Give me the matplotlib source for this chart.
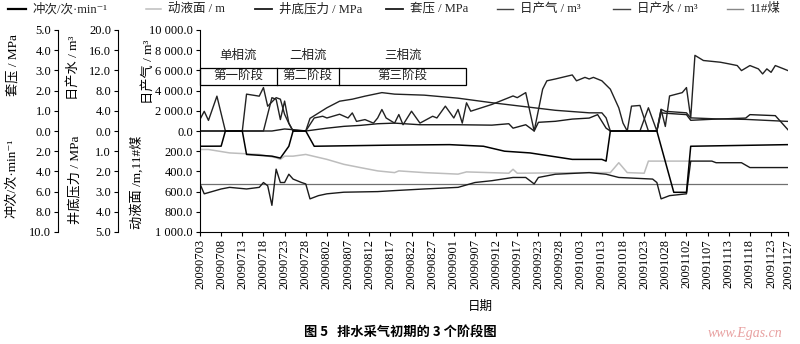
import matplotlib
matplotlib.use("Agg")
import matplotlib.pyplot as plt
from matplotlib.lines import Line2D
from matplotlib.patches import Rectangle

plt.rcParams['font.family'] = ['Liberation Serif', 'Noto Sans CJK SC', 'DejaVu Sans']

# -------------
# Data: (record index, value) pairs
# -------------
dates = ["20090703", "20090708", "20090713", "20090718", "20090723", "20090728",
         "20090802", "20090807", "20090812", "20090817", "20090822", "20090827",
         "20090901", "20090907", "20090912", "20090917", "20090923", "20090928",
         "20091003", "20091013", "20091018", "20091023", "20091028", "20091102",
         "20091107", "20091113", "20091118", "20091123", "20091127"]
date_idx = [0, 5, 10, 15, 20, 25, 30, 35, 40, 45, 50, 55, 60, 65, 70, 75, 80,
            85, 90, 95, 100, 105, 110, 115, 120, 125, 130, 135, 139]

# 日产水 m3
water_i = [0, 1, 2, 4, 6, 10, 11, 14, 15, 16, 18, 19, 20, 21, 22, 25, 26, 30, 33, 36,
           39, 43, 46, 53, 61, 69, 76, 84, 92, 95, 96, 97, 104, 106, 108, 109, 110,
           115, 116, 122, 129, 139]
water_v = [2.3, 3.9, 2.1, 6.9, 0, 0, 7.3, 6.9, 8.6, 4.9, 6.6, 6.3, 3.3, 1.5, 0, 0, 2.5,
           4.6, 5.9, 6.3, 6.9, 7.6, 7.3, 7.1, 6.5, 5.6, 4.9, 4.1, 3.6, 3.6, 2.6, 0, 0,
           4.6, 0, 4.3, 3.9, 3.6, 2.6, 2.4, 2.3, 1.9]

# 日产气 m3
gas_i = [0, 15, 17, 18, 19, 20, 21, 22, 25, 27, 29, 30, 33, 35, 36, 37, 39, 41, 42, 43,
         44, 46, 47, 48, 50, 52, 55, 56, 58, 60, 61, 62, 63, 64, 69, 74, 75, 77, 79, 81,
         82, 84, 88, 89, 91, 92, 93, 95, 97, 99, 100, 101, 102, 104, 106, 108, 109, 110,
         111, 114, 115, 116, 117, 119, 123, 125, 127, 128, 130, 132, 133, 134, 135, 136,
         138, 139]
gas_v = [0, 0, 3300, 3140, 1130, 2960, 780, 0, 0, 1290, 1460, 1290, 1660, 1290, 1790,
         950, 1130, 780, 1290, 2130, 1290, 780, 1630, 620, 1960, 780, 1460, 1290, 2460,
         1290, 2130, 780, 2790, 1960, 2630, 3470, 3300, 3800, 0, 4140, 4970, 5150, 5550,
         4970, 5310, 5150, 5310, 4970, 4140, 2290, 780, 0, 2460, 2530, 0, 0, 2130, 450,
         3470, 3800, 4300, 1290, 7490, 6980, 6810, 6650, 6480, 5980, 6480, 6150, 5650,
         6150, 5810, 6480, 6150, 5980]

# 套压 MPa
casing_i = [0, 17, 20, 23, 25, 30, 34, 38, 42, 46, 52, 61, 69, 73, 74, 77, 79, 80, 84,
            88, 92, 94, 96, 97, 108, 109, 110, 115, 116, 121, 129, 130, 136, 139]
casing_v = [0, 0, 0.1, 0.05, 0, 0.14, 0.23, 0.28, 0.36, 0.39, 0.31, 0.31, 0.29, 0.36,
            0.14, 0.31, 0, 0.43, 0.48, 0.59, 0.64, 0.81, 0.14, 0, 0, 0.9, 0.88, 0.81,
            0.53, 0.58, 0.64, 0.81, 0.76, 0.06]

# 冲次 次/min
stroke_i = [0, 5, 6, 10, 11, 17, 19, 21, 22, 25, 27, 45, 59, 67, 72, 78, 83, 88, 95, 96,
            97, 108, 112, 115, 116, 139]
stroke_v = [1.51, 1.5, 0, 0, 2.32, 2.49, 2.68, 1.51, 0, 0, 1.51, 1.4, 1.35, 1.51, 2.0,
            2.17, 2.49, 2.81, 2.81, 2.98, 0, 0, 6.07, 6.07, 1.51, 1.35]

# 井底压力 MPa
bhp_i = [0, 1, 5, 7, 11, 14, 15, 16, 17, 18, 19, 20, 21, 22, 24, 25, 26, 28, 30, 34, 42,
         46, 53, 61, 65, 69, 74, 77, 79, 80, 84, 92, 96, 99, 107, 108, 109, 111, 115, 116,
         121, 122, 128, 130, 139]
bhp_v = [2.62, 3.11, 2.87, 2.79, 2.87, 2.79, 2.55, 2.71, 3.68, 1.89, 2.55, 2.55, 2.14,
         2.38, 2.55, 2.62, 3.36, 3.2, 3.11, 3.03, 3.0, 2.95, 2.87, 2.79, 2.55, 2.46, 2.3,
         2.3, 2.62, 2.3, 2.14, 2.06, 2.14, 2.3, 2.38, 2.55, 3.36, 3.2, 3.11, 1.49, 1.49,
         1.57, 1.57, 1.81, 1.81]

# 动液面 m
level_i = [0, 2, 7, 14, 18, 19, 20, 22, 25, 30, 34, 38, 42, 46, 47, 53, 61, 63, 73, 74,
           75, 92, 97, 99, 101, 105, 106, 116]
level_v = [183, 183, 217, 232, 265, 281, 249, 249, 232, 281, 330, 363, 395, 412, 395,
           412, 427, 405, 418, 379, 418, 412, 412, 314, 412, 418, 298, 298]

# 11#煤 depth m
coal_i = [0, 139]
coal_v = [520, 520]

# axis ranges of the stacked scales
WATER_TOP, GAS_TOP, CASING_TOP = 20.0, 10000.0, 5.0
STROKE_BOT, BHP_BOT, LEVEL_BOT = 10.0, 5.0, 1000.0


def up(vals, top):
    return [v / top * 5 for v in vals]


def down(vals, bot):
    return [-v / bot * 5 for v in vals]


def fmt(v):
    return f"{v:,.1f}".replace(",", " ")


# -------------
# Drawing
# -------------
fig = plt.figure(figsize=(8, 3.44), dpi=100)
pos = [0.25, 1 - 232 / 344, 0.735, 202 / 344]
ax = fig.add_axes(pos)

ax.plot(level_i, down(level_v, LEVEL_BOT), color="#bdbdbd", lw=1.1)
ax.plot(coal_i, down(coal_v, LEVEL_BOT), color="#707070", lw=0.9)
ax.plot(casing_i, up(casing_v, CASING_TOP), color="#1a1a1a", lw=1.0)
ax.plot(water_i, up(water_v, WATER_TOP), color="#222222", lw=1.0)
ax.plot(gas_i, up(gas_v, GAS_TOP), color="#222222", lw=1.0)
ax.plot(bhp_i, down(bhp_v, BHP_BOT), color="#1a1a1a", lw=1.0)
ax.plot(stroke_i, down(stroke_v, STROKE_BOT), color="black", lw=1.1)

ticks = [-5, -4, -3, -2, -1, 0, 1, 2, 3, 4, 5]
ax.set_xlim(0, 139)
ax.set_ylim(-5, 5)
ax.set_xticks(date_idx)
ax.set_xticklabels(dates, rotation=90, fontsize=9)
ax.set_yticks(ticks)
ax.set_yticklabels([fmt(t * GAS_TOP / 5) if t >= 0 else fmt(-t * LEVEL_BOT / 5) for t in ticks],
                   fontsize=9)
for s in ["top", "right"]:
    ax.spines[s].set_visible(False)
ax.tick_params(direction="out", length=3, width=0.8, pad=2)

# extra left scales
extra = [
    (59, [fmt(t * WATER_TOP / 5) if t >= 0 else fmt(-t * BHP_BOT / 5) for t in ticks]),
    (102, [fmt(t * CASING_TOP / 5) if t >= 0 else fmt(-t * STROKE_BOT / 5) for t in ticks]),
]
for outward, labels in extra:
    a = fig.add_axes(pos)
    a.patch.set_visible(False)
    for s in ["top", "right", "bottom"]:
        a.spines[s].set_visible(False)
    a.spines["left"].set_position(("outward", outward))
    a.set_xticks([])
    a.set_ylim(-5, 5)
    a.set_yticks(ticks)
    a.set_yticklabels(labels, fontsize=9)
    a.tick_params(axis="y", direction="out", length=3, width=0.8, pad=2)

# stage box
ax.add_patch(Rectangle((0, 2.28), 62.9, 0.84, fill=False, lw=0.9, clip_on=False))
ax.plot([18.2, 18.2], [2.28, 3.12], color="black", lw=0.9)
ax.plot([32.9, 32.9], [2.28, 3.12], color="black", lw=0.9)
for x, top_txt, cell_txt in [(9, "单相流", "第一阶段"), (25.5, "二相流", "第二阶段"),
                             (47.9, "三相流", "第三阶段")]:
    ax.text(x, 3.72, top_txt, ha="center", va="center", fontsize=9, color="#222")
    ax.text(x, 2.70, cell_txt, ha="center", va="center", fontsize=9, color="#222")


def px(x, y):
    return x / 800, 1 - y / 344


# axis titles
for (x, y), txt in [((13, 65), "套压 / MPa"), ((12, 178), "冲次/次·min⁻¹"),
                    ((73, 68), "日产水 / m³"), ((75, 180), "井底压力 / MPa"),
                    ((148, 72), "日产气 / m³"), ((137, 182), "动液面 /m,11#煤")]:
    fig.text(*px(x, y), txt, rotation=90, ha="center", va="center", fontsize=9.5)

# legend drawn along the top
legend = [
    (8, 26, "冲次/次·min⁻¹", "black", 1.6),
    (146, 161, "动液面 / m", "#bdbdbd", 1.1),
    (255, 272, "井底压力 / MPa", "#1a1a1a", 1.3),
    (386, 403, "套压 / MPa", "#1a1a1a", 1.3),
    (497, 513, "日产气 / m³", "#444444", 1.0),
    (613, 630, "日产水 / m³", "#444444", 1.0),
    (727, 743, "11#煤", "#888888", 1.0),
]
for x0, x1, txt, c, lw in legend:
    fig.add_artist(Line2D([x0 / 800, x1 / 800], [1 - 9 / 344] * 2, color=c, lw=lw,
                          transform=fig.transFigure))
    fig.text((x1 + 7) / 800, 1 - 9 / 344, txt, ha="left", va="center", fontsize=9,
             color="#222")

fig.text(*px(480, 307), "日期", ha="center", va="center", fontsize=9)
fig.text(*px(400, 333), "图 5   排水采气初期的 3 个阶段图", ha="center", va="center",
         fontsize=9.5, fontweight="bold", family=["Noto Sans CJK SC"])
fig.text(*px(745, 333), "www.Egas.cn", ha="center", va="center", fontsize=10,
         style="italic", color="#e8a0a0")

fig.savefig("out.png", dpi=100)
